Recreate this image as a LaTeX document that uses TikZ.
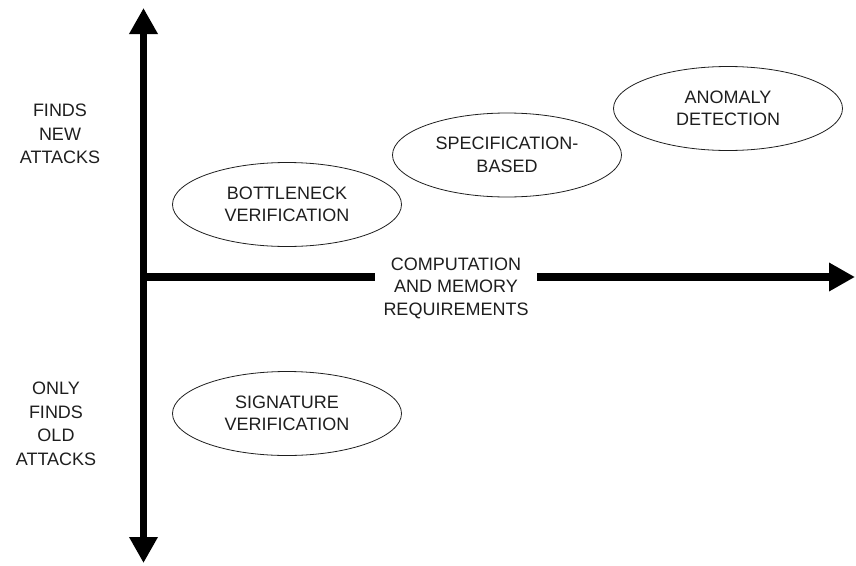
\documentclass[tikz,border=0pt]{standalone}
\usepackage{fontspec}
\setmainfont{Liberation Sans}
\usetikzlibrary{arrows.meta,shapes.geometric}
\definecolor{inkgray}{RGB}{30,30,30}
\tikzset{
  axisline/.style={line width=7.5pt},
  bigtip/.tip={Triangle[length=26pt,width=27pt]},
  oval/.style={draw=inkgray, ellipse, line width=0.8pt, minimum width=229pt, minimum height=84pt, inner sep=0pt, align=center, text=inkgray, font=\fontsize{18}{22.5}\selectfont},
  sidelabel/.style={align=center, text=inkgray, font=\fontsize{18}{23.5}\selectfont},
}
\begin{document}
\begin{tikzpicture}[x=1pt,y=-1pt]
\useasboundingbox (0,0) rectangle (856,565);
\coordinate (top) at (143.5,8);
\coordinate (bottom) at (143.5,563);
\coordinate (origin) at (143.5,277);
\coordinate (right) at (855,277);
\draw[axisline, bigtip-bigtip] (top) -- (bottom);
\draw[axisline, -bigtip] (origin) -- (right);
\node[fill=white, inner sep=0pt, minimum width=162pt, minimum height=70pt, align=center, text=inkgray, font=\fontsize{18}{22.5}\selectfont] (xlabel) at (456,288) {COMPUTATION\\AND MEMORY\\REQUIREMENTS};
\node[oval] (bottleneck) at (287,204.5) {BOTTLENECK\\VERIFICATION};
\node[oval] (spec) at (507,155) {SPECIFICATION-\\BASED};
\node[oval] (anomaly) at (728,108.5) {ANOMALY\\DETECTION};
\node[oval] (signature) at (287,413.5) {SIGNATURE\\VERIFICATION};
\node[sidelabel] (findsnew) at (60,134) {FINDS\\NEW\\ATTACKS};
\node[sidelabel] (findsold) at (56,424) {ONLY\\FINDS\\OLD\\ATTACKS};
\end{tikzpicture}
\end{document}
